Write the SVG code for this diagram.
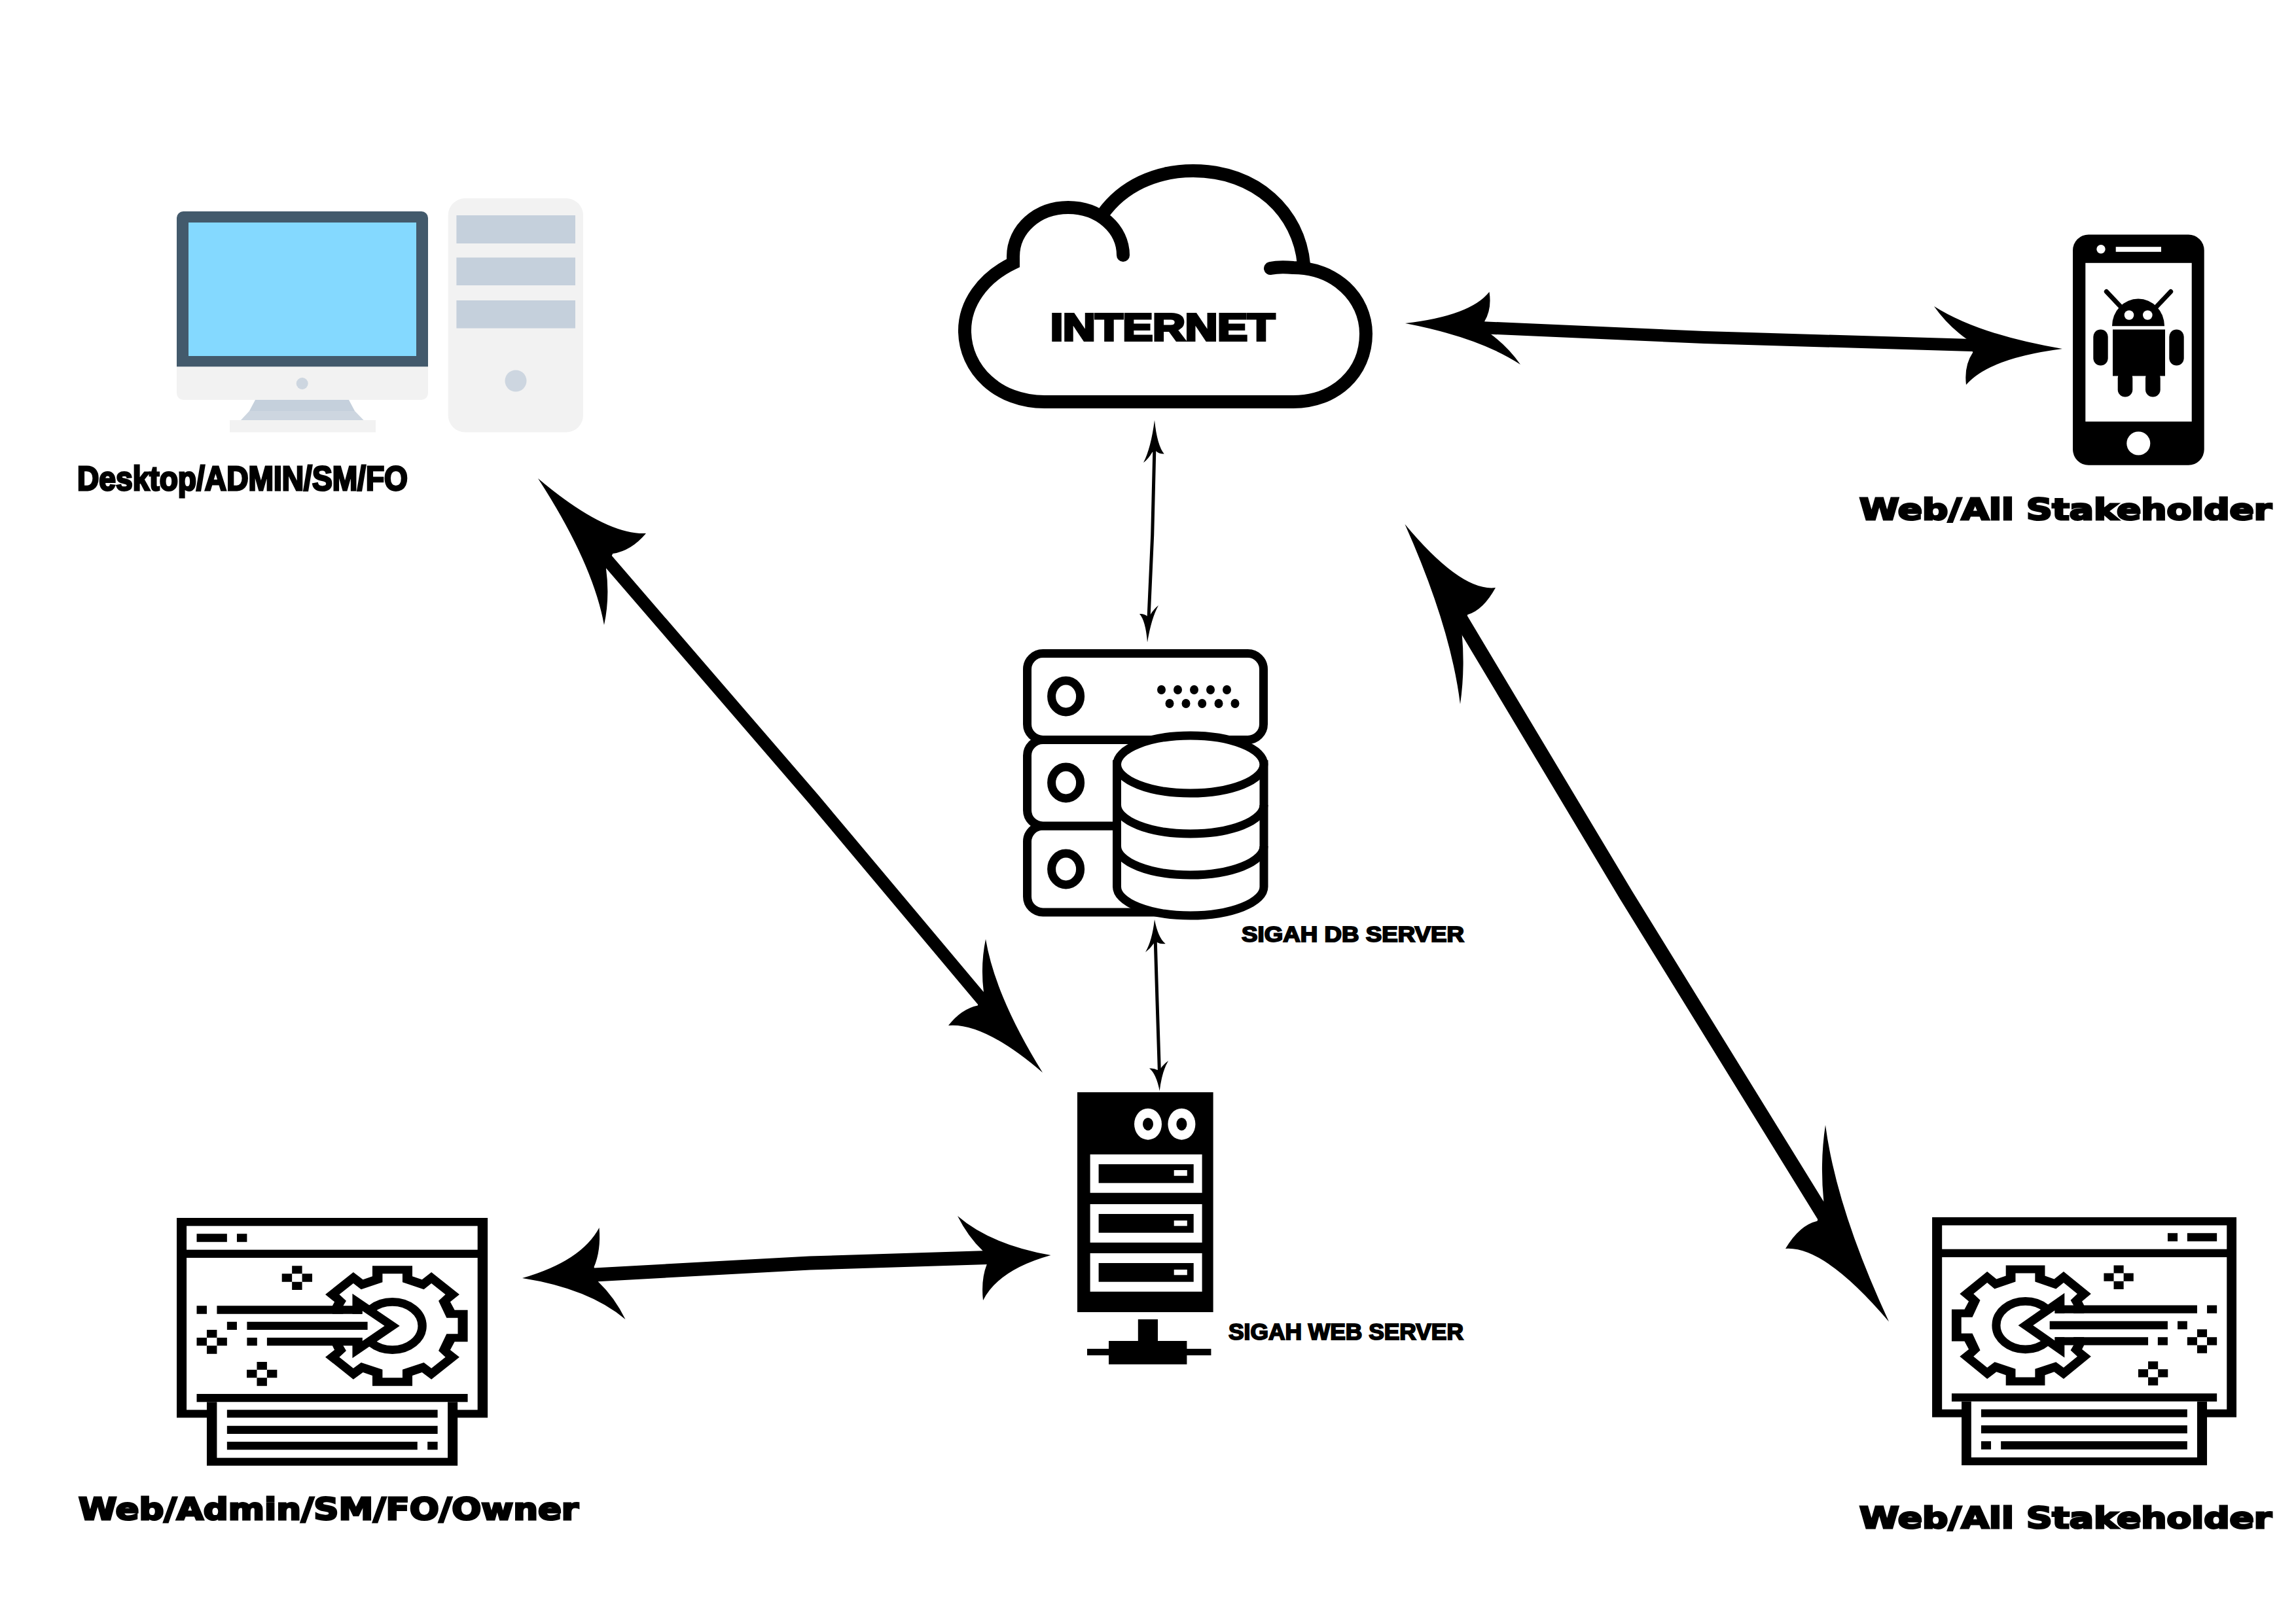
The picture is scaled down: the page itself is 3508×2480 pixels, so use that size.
<svg xmlns="http://www.w3.org/2000/svg" xmlns:xlink="http://www.w3.org/1999/xlink" width="3508" height="2480" viewBox="0 0 3508 2480">
<style>
.k{fill:#000}
.w{fill:#fff}
.ln{fill:none;stroke:#000;stroke-miterlimit:10}
.o{fill:#fff;stroke:#000;stroke-width:13}
.lt{fill:#f2f2f2}
.gr{fill:#c5d0dc}
.cond{font-family:"Liberation Sans",Arial,sans-serif;font-weight:700;fill:#000;stroke:#000;stroke-linejoin:miter}
.wide{font-family:"DejaVu Sans",Verdana,sans-serif;font-weight:700;fill:#000;stroke:#000;stroke-linejoin:miter}
</style>
<defs>
<path id="head" class="k" d="M0 0Q.5 .2 1 0Q.73 .22 .49 .33L.33 .49Q.22 .73 0 1Q.2 .5 0 0Z"/>
<path id="spark" class="k" d="M559 277h44v36h-44zM515 313h44v37h-44zM603 313h44v37h-44zM559 350h44v37h-44z"/>
<g id="win">
<rect class="k" x="57" y="57" width="1354" height="916"/>
<rect class="w" x="100" y="94" width="1267" height="109"/>
<rect class="w" x="100" y="240" width="1267" height="697"/>
<path class="k" d="M144 130h132v37h-132zM319 130h44v37h-44z"/>
<use href="#spark"/>
<use href="#spark" transform="translate(-371 293)"/>
<use href="#spark" transform="translate(-153 440)"/>
<path class="k" fill-rule="evenodd" d="M909 277H1083V325L1125 340L1166 306L1288 408L1248 442L1267 479H1324V625H1267L1248 662L1288 695L1166 797L1125 765L1083 780V827H909V780L868 765L826 797L704 695L744 662L735 643V460L744 442L704 408L826 306L868 340L909 325ZM953 313V352L860 385L826 357L765 408L795 437L782 460V643L795 666L765 695L826 746L860 720L953 752V790H1040V752L1133 720L1166 746L1227 695L1197 666L1232 589H1281V515H1232L1197 437L1227 408L1166 357L1133 385L1040 352V313Z"/>
<rect class="w" x="725" y="497" width="120" height="109"/>
<ellipse cx="996" cy="552" rx="130" ry="110" fill="none" stroke="#000" stroke-width="38"/>
<path class="k" d="M822 404L1028 552L822 700Z"/>
<path class="w" d="M800 497H865V483L962 552L865 622V606H800Z"/>
<path class="k" d="M144 460h44v37h-44zM232 460H865V497H232zM276 533h43v37h-43zM363 533H888V570H363zM363 606h44v37h-44zM450 606H865V643H450z"/>
<rect class="k" x="144" y="864" width="1180" height="37"/>
<rect class="k" x="188" y="901" width="1092" height="292"/>
<rect class="w" x="232" y="901" width="1005" height="256"/>
<path class="k" d="M276 937H1193V973H276zM276 1010H1193V1047H276zM276 1083H1105V1120H276zM1149 1083h44v37h-44z"/>
</g>
</defs>
<rect width="3508" height="2480" fill="#fff"/>

<g id="node-desktop">
<path fill="#435a6c" d="M270 560.5V333a10 10 0 0 1 10-10H644a10 10 0 0 1 10 10V560.5Z"/>
<rect x="288" y="340" width="348" height="204" fill="#84d9ff"/>
<path class="lt" d="M270 560.5H654V601a10 10 0 0 1-10 10H280a10 10 0 0 1-10-10Z"/>
<circle cx="461.7" cy="586" r="9" fill="#cdd6e0"/>
<path class="gr" d="M390 611H533L542 628H381Z"/>
<path fill="#cdd6e0" d="M381 628H542L555.6 642H368Z"/>
<rect class="lt" x="351" y="642" width="223" height="18.5"/>
<rect class="lt" x="684.7" y="303" width="206.3" height="357.5" rx="26"/>
<rect class="gr" x="697.4" y="329" width="181.6" height="43"/>
<rect class="gr" x="697.4" y="393.5" width="181.6" height="42.5"/>
<rect class="gr" x="697.4" y="459" width="181.6" height="42.6"/>
<circle cx="788" cy="582" r="16.5" fill="#cdd6e0"/>
<text class="cond" x="118" y="748.5" font-size="52" stroke-width="3" textLength="505" lengthAdjust="spacingAndGlyphs">Desktop/ADMIN/SM/FO</text>
</g>

<g id="node-internet">
<path class="ln" stroke-width="20" stroke-linecap="round" d="M1716 390C1716 350 1680 317 1632 317C1585 317 1548 350 1548 392V402C1500 425 1474 465 1474 505C1474 565 1525 614 1596 614H1976C2040 614 2087 570 2087 510C2087 455 2040 409 1976 409C1965 408 1950 408 1941 410"/>
<path class="ln" stroke-width="20" d="M1992 404C1985 325 1920 261 1823 261C1765 261 1715 285 1685 327"/>
<text class="cond" x="1605" y="520" font-size="58" stroke-width="4" textLength="343" lengthAdjust="spacingAndGlyphs">INTERNET</text>
</g>

<g id="node-phone">
<g transform="translate(0 1.5)">
<rect class="k" x="3167" y="357" width="200.7" height="352.3" rx="24"/>
<rect class="w" x="3186.3" y="400.3" width="162.4" height="242.4"/>
<circle class="w" cx="3267.3" cy="676" r="18"/>
<circle class="w" cx="3210" cy="379.3" r="6.7"/>
<rect class="w" x="3232.7" y="375.7" width="69.3" height="7.6"/>
<path class="ln" stroke-width="7" stroke-linecap="round" d="M3218.3 444L3240 467M3316.7 444L3295 467"/>
<path class="k" d="M3227 496.7A40 41.7 0 0 1 3307 496.7Z"/>
<circle class="w" cx="3253" cy="480" r="7.3"/>
<circle class="w" cx="3281.3" cy="480" r="7.3"/>
<rect class="k" x="3228" y="502" width="80" height="71"/>
<rect class="k" x="3198.3" y="502" width="22.4" height="55" rx="11.2"/>
<rect class="k" x="3314.3" y="502" width="22.4" height="55" rx="11.2"/>
<rect class="k" x="3235.7" y="565" width="22.6" height="40" rx="11.3"/>
<rect class="k" x="3278" y="565" width="22.7" height="40" rx="11.3"/>
</g>
<text class="wide" x="2841" y="794" font-size="45" stroke-width="3" textLength="630" lengthAdjust="spacingAndGlyphs">Web/All Stakeholder</text>
</g>

<g id="node-db-server">
<g transform="translate(0 2)">
<rect class="o" x="1569.5" y="1260" width="290" height="132" rx="24"/>
<rect class="o" x="1569.5" y="1128.5" width="290" height="131.5" rx="24"/>
<rect class="o" x="1569.5" y="996.5" width="361" height="132" rx="24"/>
<ellipse cx="1628.6" cy="1062" rx="22" ry="24" fill="none" stroke="#000" stroke-width="13"/>
<ellipse cx="1628.6" cy="1194" rx="22" ry="24" fill="none" stroke="#000" stroke-width="13"/>
<ellipse cx="1628.6" cy="1326" rx="22" ry="24" fill="none" stroke="#000" stroke-width="13"/>
<g class="k">
<ellipse cx="1774.5" cy="1052" rx="6.5" ry="7"/><ellipse cx="1799.5" cy="1052" rx="6.5" ry="7"/><ellipse cx="1824.5" cy="1052" rx="6.5" ry="7"/><ellipse cx="1849.5" cy="1052" rx="6.5" ry="7"/><ellipse cx="1874.5" cy="1052" rx="6.5" ry="7"/>
<ellipse cx="1787" cy="1073" rx="6.5" ry="7"/><ellipse cx="1812" cy="1073" rx="6.5" ry="7"/><ellipse cx="1836.7" cy="1073" rx="6.5" ry="7"/><ellipse cx="1862" cy="1073" rx="6.5" ry="7"/><ellipse cx="1887" cy="1073" rx="6.5" ry="7"/>
</g>
<path class="o" d="M1706.5 1166V1353A112.2 44 0 0 0 1931 1353V1166Z"/>
<path class="ln" stroke-width="13" d="M1706.5 1228A112.2 44 0 0 0 1931 1228M1706.5 1291A112.2 44 0 0 0 1931 1291"/>
<ellipse class="o" cx="1818.7" cy="1166" rx="112.2" ry="44"/>
</g>
<text class="cond" x="1897" y="1438.5" font-size="33" stroke-width="2" textLength="340" lengthAdjust="spacingAndGlyphs">SIGAH DB SERVER</text>
</g>

<g id="node-web-server">
<g transform="translate(0 2)">
<rect class="k" x="1646" y="1667" width="207.6" height="336"/>
<ellipse class="w" cx="1754" cy="1715.7" rx="21" ry="24"/>
<ellipse class="k" cx="1754" cy="1715.7" rx="8" ry="9.7"/>
<ellipse class="w" cx="1805.4" cy="1715.7" rx="21" ry="24"/>
<ellipse class="k" cx="1805.4" cy="1715.7" rx="8" ry="9.7"/>
<rect class="w" x="1665.6" y="1762" width="171" height="58.7"/>
<rect class="k" x="1678.6" y="1777" width="145.1" height="28.7"/>
<rect class="w" x="1793.7" y="1786" width="20.1" height="8.7"/>
<rect class="w" x="1665.6" y="1838" width="171" height="58.7"/>
<rect class="k" x="1678.6" y="1853" width="145.1" height="28.7"/>
<rect class="w" x="1793.7" y="1863" width="20.1" height="8.3"/>
<rect class="w" x="1665.6" y="1913" width="171" height="58.7"/>
<rect class="k" x="1678.6" y="1928" width="145.1" height="28.7"/>
<rect class="w" x="1793.7" y="1938" width="20.1" height="8.3"/>
<path class="k" d="M1738.8 2014H1769V2047H1813.4V2059H1850.4V2069H1813.4V2082.7H1694V2069H1661V2059H1694V2047H1738.8Z"/>
</g>
<text class="cond" x="1877" y="2047" font-size="35" stroke-width="2" textLength="359" lengthAdjust="spacingAndGlyphs">SIGAH WEB SERVER</text>
</g>

<g id="node-web-admin">
<use href="#win" transform="matrix(.3509 0 0 .3333 250 1842)"/>
<text class="wide" x="120" y="2322" font-size="47" stroke-width="3" textLength="764" lengthAdjust="spacingAndGlyphs">Web/Admin/SM/FO/Owner</text>
</g>

<g id="node-web-stakeholder">
<use href="#win" transform="matrix(-.3434 0 0 .3336 3436.6 1841)"/>
<text class="wide" x="2841" y="2335" font-size="45" stroke-width="3" textLength="630" lengthAdjust="spacingAndGlyphs">Web/All Stakeholder</text>
</g>

<g id="connectors">
<path class="ln" stroke-width="19" d="M916 842L1243 1221L1515 1545"/>
<use href="#head" transform="matrix(165 84 101 224 822 731)"/>
<use href="#head" transform="matrix(-144 -72 -87 -204 1593 1639)"/>
<path class="ln" stroke-width="19" d="M2250 500L2604 515.5L3030 528"/>
<use href="#head" transform="matrix(128.5 -48 176 63 2147 494)"/>
<use href="#head" transform="matrix(-196 -65 -147 55 3151 533)"/>
<path class="ln" stroke-width="21" d="M890 1949L1237 1930L1525 1921"/>
<use href="#head" transform="matrix(117.5 -77 157.5 63 798 1953)"/>
<use href="#head" transform="matrix(-142.5 -60 -103.5 69 1605.5 1918)"/>
<path class="ln" stroke-width="22" d="M2223 931L2484 1367L2803 1884"/>
<use href="#head" transform="matrix(138.5 97 84.5 275 2146.5 801)"/>
<use href="#head" transform="matrix(-158 -111.5 -97 -300.5 2886 2019.5)"/>
<path class="ln" stroke-width="5" d="M1764 680L1760.7 817.5L1755 945"/>
<use href="#head" transform="matrix(14.7 51.6 -17 65 1764 642)"/>
<use href="#head" transform="matrix(17 -56.6 -12 -43.6 1753 981.6)"/>
<path class="ln" stroke-width="5" d="M1765 1430L1768 1530L1771.5 1640"/>
<use href="#head" transform="matrix(16.7 37 -14 50 1764 1405)"/>
<use href="#head" transform="matrix(13.3 -46 -15.7 -34.4 1771.7 1667)"/>
</g>
</svg>
